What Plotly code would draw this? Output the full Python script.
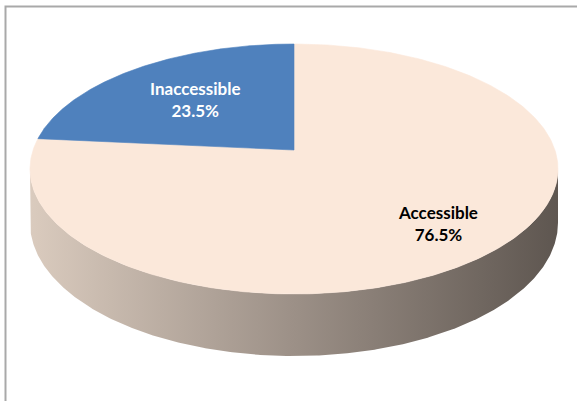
import numpy as np
import plotly.graph_objects as go

# ---- data ----
labels = ["Accessible", "Inaccessible"]
values = [76.5, 23.5]
colors = ["#FBE8DA", "#4F81BD"]
label_colors = ["#000000", "#FFFFFF"]
label_frac = [0.75, 0.60]

# ---- geometry (pixel space, perspective-projected disk) ----
W, H = 577, 401
cx, cy0 = 294, 150          # projected pie centre (apex of slices)
top_y, front_y = 44, 294    # far and near rim of top face
half_w = 264                # half width of top face
front_depth = 62            # thickness at the front

k_far = cy0 - top_y
k_near = front_y - cy0
p = (k_near - k_far) / (k_near + k_far)
k = k_far * (1 + p)
a = half_w * np.sqrt(1 - p ** 2)
d0 = front_depth * (1 - p)

def proj(u, v, bottom=False):
    s = 1.0 / (1 + p * v)
    x = cx + a * u * s
    y = cy0 - k * v * s + (d0 * s if bottom else 0.0)
    return x, y

def rim(phi, bottom=False):
    # phi measured clockwise from 12 o'clock (far side)
    return proj(np.sin(phi), np.cos(phi), bottom)

fig = go.Figure()

# side wall (visible front part), horizontal gradient
phiR = np.pi / 2 + np.arcsin(p)       # right silhouette
phiL = 3 * np.pi / 2 - np.arcsin(p)   # left silhouette
ph = np.linspace(phiR, phiL, 400)
xt, yt = rim(ph)
xb, yb = rim(ph[::-1], bottom=True)
fig.add_trace(go.Scatter(
    x=np.concatenate([xt, xb, xt[:1]]), y=np.concatenate([yt, yb, yt[:1]]),
    mode="lines", fill="toself", line=dict(width=0, color="rgba(0,0,0,0)"),
    fillgradient=dict(type="horizontal",
                      colorscale=[[0, "#DACBBE"], [0.5, "#9C9087"], [1, "#5E5650"]]),
    hoverinfo="skip", showlegend=False))

# top face slices: first slice starts at 12 o'clock, going clockwise
total = sum(values)
start = 0.0
annotations = []
for lab, v, col, lc, fr in zip(labels, values, colors, label_colors, label_frac):
    sweep = 2 * np.pi * v / total
    t = np.linspace(start, start + sweep, 400)
    x, y = rim(t)
    xs = np.concatenate([[cx], x, [cx]])
    ys = np.concatenate([[cy0], y, [cy0]])
    fig.add_trace(go.Scatter(
        x=xs, y=ys, mode="lines", fill="toself", fillcolor=col,
        line=dict(width=0.6, color=col), hoverinfo="skip", showlegend=False))
    mid = start + sweep / 2
    lx, ly = proj(fr * np.sin(mid), fr * np.cos(mid))
    annotations.append(dict(
        x=lx, y=ly, xref="x", yref="y", showarrow=False,
        text=f"<b>{lab}<br>{v:.1f}%</b>",
        font=dict(family="Lato, Open Sans, sans-serif", size=17, color=lc),
        align="center"))
    start += sweep

# chart area border (extends beyond the right and bottom of the picture)
fig.add_shape(type="rect", x0=5.5, y0=6.5, x1=W + 20, y1=H + 20,
              xref="x", yref="y", line=dict(color="#A9A9A9", width=2),
              layer="above")

fig.update_layout(
    width=W, height=H, margin=dict(l=0, r=0, t=0, b=0),
    paper_bgcolor="white", plot_bgcolor="white",
    xaxis=dict(range=[0, W], visible=False, fixedrange=True),
    yaxis=dict(range=[H, 0], visible=False, fixedrange=True),
    annotations=annotations, showlegend=False)

fig.write_html("out.html", config={"displayModeBar": False},
               post_script="document.body.style.margin='0';document.body.style.overflow='hidden';")
